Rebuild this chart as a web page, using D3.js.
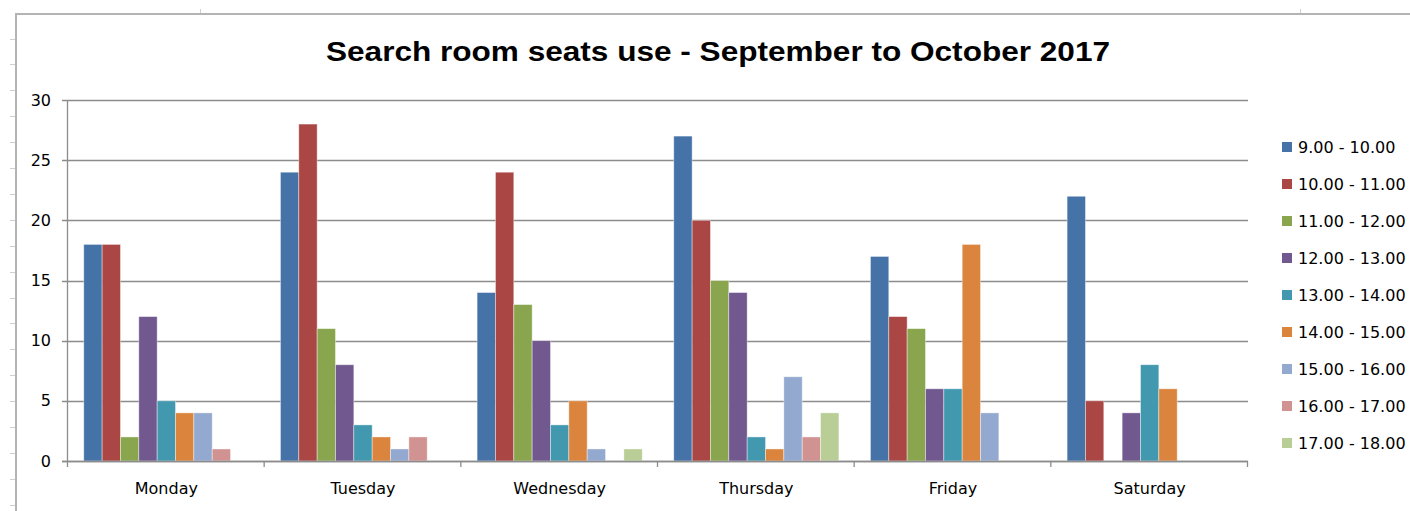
<!DOCTYPE html>
<html>
<head>
<meta charset="utf-8">
<script src="https://cdn.jsdelivr.net/npm/d3@7"></script>
<style>
  body { margin: 0; background: #fff; }
  text { font-family: "DejaVu Sans", Verdana, sans-serif; }
</style>
</head>
<body>
<script>
var width = 1410,
    height = 511;

// categories and series
var days = ["Monday", "Tuesday", "Wednesday", "Thursday", "Friday", "Saturday"];
var slots = ["9.00 - 10.00", "10.00 - 11.00", "11.00 - 12.00", "12.00 - 13.00", "13.00 - 14.00",
             "14.00 - 15.00", "15.00 - 16.00", "16.00 - 17.00", "17.00 - 18.00"];
var colors = ["#4572A7", "#AA4643", "#89A54E", "#71588F", "#4198AF", "#DB843D", "#93A9CF", "#D19392", "#B9CD96"];

// values per day, one for each slot
var monday    = [18, 18, 2, 12, 5, 4, 4, 1, 0];
var tuesday   = [24, 28, 11, 8, 3, 2, 1, 2, 0];
var wednesday = [14, 24, 13, 10, 3, 5, 1, 0, 1];
var thursday  = [27, 20, 15, 14, 2, 1, 7, 2, 4];
var friday    = [17, 12, 11, 6, 6, 18, 4, 0, 0];
var saturday  = [22, 5, 0, 4, 8, 6, 0, 0, 0];
var values = [monday, tuesday, wednesday, thursday, friday, saturday];

var yTicks = [0, 5, 10, 15, 20, 25, 30];

var plot = {left: 68, right: 1248, top: 100, bottom: 461};

var svg = d3.select("body")
    .append("svg")
    .attr("width", width)
    .attr("height", height);

// spreadsheet frame behind the chart
svg.append("line")
    .attr("x1", 16).attr("x2", width).attr("y1", 14).attr("y2", 14)
    .attr("stroke", "#b4b4b4").attr("stroke-width", 2);
svg.append("line")
    .attr("x1", 16).attr("x2", 16).attr("y1", 13).attr("y2", height)
    .attr("stroke", "#b4b4b4").attr("stroke-width", 2);
d3.range(38.5, height, 25.9).forEach(function(y) {
    svg.append("line")
        .attr("x1", 10).attr("x2", 15).attr("y1", Math.round(y) + 0.5).attr("y2", Math.round(y) + 0.5)
        .attr("stroke", "#d0d0d0");
});
[200, 1300].forEach(function(x) {
    svg.append("line")
        .attr("x1", x + 0.5).attr("x2", x + 0.5).attr("y1", 9).attr("y2", 13)
        .attr("stroke", "#d0d0d0");
});

var y = d3.scaleLinear()
    .domain([0, 30])
    .range([plot.bottom, plot.top]);

var x0 = d3.scaleBand()
    .domain(days)
    .range([plot.left, plot.right]);

var x1 = d3.scaleBand()
    .domain(slots)
    .range([0, x0.bandwidth()])
    .paddingInner(0)
    .paddingOuter(0.86);

// gridlines
svg.append("g")
    .selectAll("line")
    .data(yTicks)
    .enter().append("line")
    .attr("x1", plot.left - 6)
    .attr("x2", plot.right)
    .attr("y1", function(d) { return Math.round(y(d)) + 0.5; })
    .attr("y2", function(d) { return Math.round(y(d)) + 0.5; })
    .attr("stroke", "#8c8c8c")
    .attr("stroke-width", 1.3);

// y labels
svg.append("g")
    .selectAll("text")
    .data(yTicks)
    .enter().append("text")
    .attr("x", 51)
    .attr("y", function(d) { return y(d); })
    .attr("dy", "0.35em")
    .attr("text-anchor", "end")
    .style("font-size", "16px")
    .style("fill", "#000")
    .text(function(d) { return d; });

// bars
var groups = svg.append("g")
    .selectAll("g")
    .data(values)
    .enter().append("g")
    .attr("transform", function(d, i) { return "translate(" + x0(days[i]) + ",0)"; });

groups.selectAll("rect")
    .data(function(d) { return d; })
    .enter().append("rect")
    .attr("x", function(d, i) { return x1(slots[i]); })
    .attr("y", function(d) { return y(d); })
    .attr("width", x1.bandwidth())
    .attr("height", function(d) { return y(0) - y(d); })
    .attr("fill", function(d, i) { return colors[i]; })
    .attr("stroke", "#fff")
    .attr("stroke-opacity", 0.5)
    .attr("stroke-width", 0.8)
    .style("display", function(d) { return d > 0 ? null : "none"; });

// axes lines
svg.append("line")
    .attr("x1", plot.left - 0.5).attr("x2", plot.left - 0.5)
    .attr("y1", plot.top).attr("y2", plot.bottom + 1)
    .attr("stroke", "#8c8c8c").attr("stroke-width", 1.3);
svg.append("line")
    .attr("x1", plot.left - 6).attr("x2", plot.right)
    .attr("y1", Math.round(y(0)) + 0.5).attr("y2", Math.round(y(0)) + 0.5)
    .attr("stroke", "#8c8c8c").attr("stroke-width", 1.3);

// category ticks
svg.append("g")
    .selectAll("line")
    .data(days.concat(["end"]))
    .enter().append("line")
    .attr("x1", function(d, i) { return plot.left + i * x0.step() - 0.5; })
    .attr("x2", function(d, i) { return plot.left + i * x0.step() - 0.5; })
    .attr("y1", plot.bottom)
    .attr("y2", plot.bottom + 6)
    .attr("stroke", "#8c8c8c").attr("stroke-width", 1.3);

// category labels
svg.append("g")
    .selectAll("text")
    .data(days)
    .enter().append("text")
    .attr("x", function(d) { return x0(d) + x0.bandwidth() / 2; })
    .attr("y", 494)
    .attr("text-anchor", "middle")
    .style("font-size", "16px")
    .style("fill", "#000")
    .text(function(d) { return d; });

// title
svg.append("text")
    .attr("x", 718)
    .attr("y", 61)
    .attr("text-anchor", "middle")
    .attr("textLength", 784)
    .attr("lengthAdjust", "spacingAndGlyphs")
    .style("font-family", "'Liberation Sans', Arial, sans-serif")
    .style("font-weight", "bold")
    .style("font-size", "27px")
    .style("fill", "#000")
    .text("Search room seats use - September to October 2017");

// legend
var legend = svg.append("g")
    .selectAll("g")
    .data(slots)
    .enter().append("g")
    .attr("transform", function(d, i) { return "translate(1282," + (147 + i * 37) + ")"; });

legend.append("rect")
    .attr("x", 0).attr("y", -5)
    .attr("width", 10).attr("height", 10)
    .attr("fill", function(d, i) { return colors[i]; });

legend.append("text")
    .attr("x", 16)
    .attr("y", 0)
    .attr("dy", "0.36em")
    .style("font-size", "16px")
    .style("fill", "#000")
    .text(function(d) { return d; });
</script>
</body>
</html>
